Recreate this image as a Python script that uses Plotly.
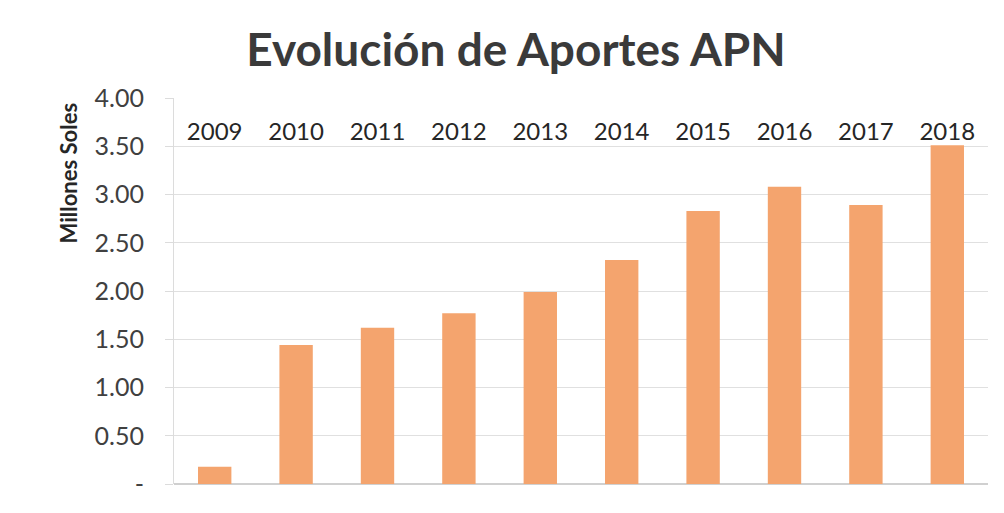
import plotly.graph_objects as go

years = ["2009", "2010", "2011", "2012", "2013", "2014", "2015", "2016", "2017", "2018"]
aportes = [0.18, 1.44, 1.62, 1.77, 1.99, 2.32, 2.83, 3.08, 2.89, 3.51]
y_ticks = [0, 0.5, 1.0, 1.5, 2.0, 2.5, 3.0, 3.5, 4.0]
y_labels = ["-", "0.50", "1.00", "1.50", "2.00", "2.50", "3.00", "3.50", "4.00"]
label_level = 3.63

fig = go.Figure()
fig.add_trace(go.Bar(x=years, y=aportes, marker=dict(color="#F4A46E", line=dict(width=0)), width=0.41))
fig.add_trace(go.Scatter(x=years, y=[label_level] * len(years), mode="text", text=years,
                         textposition="middle center", textfont=dict(size=24, color="#262626"),
                         hoverinfo="skip"))

fig.add_annotation(xref="paper", yref="paper", x=-0.130, y=0.805, text="<b>Millones Soles</b>",
                   textangle=-90, showarrow=False, font=dict(size=22, color="#262626"),
                   xanchor="center", yanchor="middle")

fig.update_layout(
    width=1004, height=513,
    margin=dict(l=166, r=24, t=90, b=37, autoexpand=False),
    paper_bgcolor="white", plot_bgcolor="white",
    font=dict(family="Lato, Open Sans, sans-serif", color="#404040"),
    title=dict(text="<b>Evolución de Aportes APN</b>", x=0.506, xanchor="center", y=0.918, yanchor="middle",
               font=dict(size=46, color="#3a3a3a", family="Lato, Open Sans, sans-serif")),
    showlegend=False,
    bargap=0.59,
)
fig.update_xaxes(type="category", showticklabels=False, showgrid=False, showline=False, ticks="",
                 automargin=False)
fig.update_yaxes(
    range=[0, 4.0], tickvals=y_ticks, ticktext=y_labels, automargin=False,
    tickfont=dict(size=25, color="#404040"), gridcolor="#e0e0e0", gridwidth=1,
    showline=True, linecolor="#dcdcdc", ticks="outside", tickcolor="#dcdcdc", ticklen=8,
    ticklabelstandoff=16,
    zeroline=True, zerolinecolor="#d0d0d0",
)
fig.write_html("out.html")
